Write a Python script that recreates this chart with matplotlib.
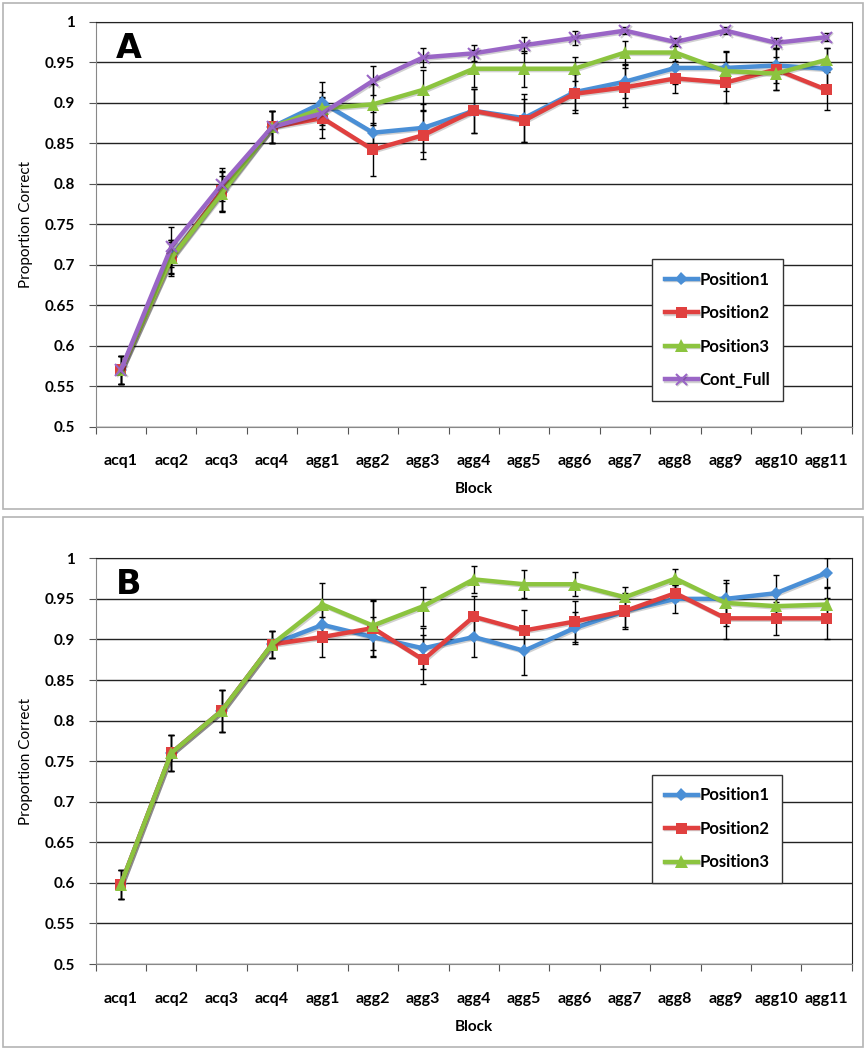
import matplotlib
matplotlib.use("Agg")
import matplotlib.pyplot as plt
import matplotlib.patheffects as pe
from matplotlib.patches import Rectangle
import numpy as np

blocks = ["acq1", "acq2", "acq3", "acq4", "agg1", "agg2", "agg3", "agg4",
          "agg5", "agg6", "agg7", "agg8", "agg9", "agg10", "agg11"]

# Panel A
a_pos1 = [0.570, 0.710, 0.790, 0.870, 0.900, 0.863, 0.869, 0.890, 0.881, 0.913, 0.926, 0.943, 0.943, 0.946, 0.942]
a_pos2 = [0.570, 0.708, 0.791, 0.870, 0.881, 0.842, 0.860, 0.890, 0.878, 0.911, 0.919, 0.930, 0.925, 0.941, 0.916]
a_pos3 = [0.570, 0.708, 0.788, 0.870, 0.893, 0.898, 0.916, 0.942, 0.942, 0.942, 0.962, 0.962, 0.939, 0.936, 0.953]
a_full = [0.570, 0.722, 0.799, 0.870, 0.887, 0.927, 0.956, 0.961, 0.971, 0.980, 0.989, 0.975, 0.989, 0.974, 0.981]
a_err1 = [0.017, 0.020, 0.025, 0.020, 0.025, 0.025, 0.030, 0.027, 0.030, 0.022, 0.020, 0.020, 0.020, 0.022, 0.025]
a_err2 = [0.017, 0.022, 0.025, 0.020, 0.025, 0.033, 0.030, 0.027, 0.027, 0.024, 0.024, 0.018, 0.025, 0.025, 0.025]
a_err3 = [0.017, 0.020, 0.022, 0.020, 0.020, 0.025, 0.025, 0.023, 0.022, 0.015, 0.014, 0.010, 0.025, 0.020, 0.015]
a_errf = [0.017, 0.025, 0.020, 0.020, 0.020, 0.018, 0.012, 0.010, 0.010, 0.009, 0.004, 0.005, 0.004, 0.006, 0.005]

# Panel B
b_pos1 = [0.598, 0.760, 0.812, 0.894, 0.918, 0.903, 0.889, 0.903, 0.886, 0.914, 0.935, 0.950, 0.950, 0.957, 0.982]
b_pos2 = [0.598, 0.760, 0.812, 0.894, 0.903, 0.914, 0.875, 0.928, 0.911, 0.922, 0.935, 0.957, 0.926, 0.926, 0.926]
b_pos3 = [0.598, 0.760, 0.812, 0.894, 0.943, 0.917, 0.941, 0.974, 0.968, 0.968, 0.952, 0.975, 0.945, 0.941, 0.943]
b_err1 = [0.018, 0.022, 0.026, 0.017, 0.020, 0.025, 0.025, 0.025, 0.030, 0.020, 0.020, 0.017, 0.020, 0.022, 0.018]
b_err2 = [0.018, 0.022, 0.026, 0.017, 0.025, 0.035, 0.030, 0.025, 0.025, 0.025, 0.022, 0.010, 0.025, 0.020, 0.025]
b_err3 = [0.018, 0.022, 0.026, 0.017, 0.027, 0.030, 0.024, 0.017, 0.017, 0.015, 0.013, 0.012, 0.028, 0.020, 0.020]

styles = {
    "Position1": dict(color="#4a8fd6", marker="D", ms=6.5, mew=0),
    "Position2": dict(color="#e0403f", marker="s", ms=8, mew=0),
    "Position3": dict(color="#8cc43f", marker="^", ms=9, mew=0),
    "Cont_Full": dict(color="#9a66c6", marker="x", ms=8, mew=1.5),
}

label_font = ["Lato", "DejaVu Sans"]
shadow = [pe.SimpleLineShadow(offset=(1.0, -1.0), alpha=0.18), pe.Normal()]

fig = plt.figure(figsize=(8.66, 10.5), dpi=100)

# gray panel frames
for y0, y1 in [(3, 509), (517, 1047)]:
    fig.patches.append(Rectangle((3 / 866, 1 - y1 / 1050), 860 / 866, (y1 - y0) / 1050,
                                 transform=fig.transFigure, fill=False,
                                 edgecolor="#b4b4b4", lw=1.2))


def draw_panel(ax, series, letter, legend_anchor):
    x = np.arange(len(blocks))
    for name, vals, errs in series:
        ax.errorbar(x, vals, yerr=errs, fmt="none", ecolor="black",
                    elinewidth=1.0, capsize=2.5, capthick=1.0, zorder=3)
    handles = []
    for name, vals, errs in series:
        st = styles[name]
        h, = ax.plot(x, vals, color=st["color"], lw=3.2, marker=st["marker"],
                     ms=st["ms"], mec=st["color"], mew=st["mew"], label=name,
                     zorder=4, path_effects=shadow)
        handles.append(h)

    ax.set_xlim(-0.5, len(blocks) - 0.5)
    ax.set_ylim(0.5, 1.0)
    ax.set_yticks(np.arange(0.5, 1.001, 0.05))
    ax.set_yticklabels(["0.5", "0.55", "0.6", "0.65", "0.7", "0.75", "0.8",
                        "0.85", "0.9", "0.95", "1"],
                       fontsize=11, fontweight="bold", family=label_font)
    ax.grid(axis="y", color="#222222", lw=1.0)
    ax.set_axisbelow(True)

    # tick marks at block boundaries, labels at centers
    ax.set_xticks(np.arange(-0.5, len(blocks), 1.0))
    ax.set_xticklabels([])
    ax.set_xticks(x, minor=True)
    ax.set_xticklabels(blocks, minor=True, fontsize=11.5, fontweight="bold",
                       family=label_font)
    ax.tick_params(axis="x", which="major", length=5, color="#555555", direction="out")
    ax.tick_params(axis="x", which="minor", length=0, pad=20)
    ax.tick_params(axis="y", length=5, color="#555555", pad=10)

    for s in ["top", "right"]:
        ax.spines[s].set_color("#222222")
    for s in ["left", "bottom"]:
        ax.spines[s].set_color("#888888")

    ax.set_xlabel("Block", fontsize=11, fontweight="bold", family=label_font, labelpad=10)
    ax.set_ylabel("Proportion Correct", fontsize=11, family=label_font, labelpad=8)

    ax.text(0.027, 0.975, letter, transform=ax.transAxes, fontsize=24,
            fontweight="heavy", family=["DejaVu Sans"], va="top", ha="left")

    leg = ax.legend(handles=handles, loc="upper left", bbox_to_anchor=legend_anchor,
                    frameon=True, fancybox=False, framealpha=1, edgecolor="#333333",
                    prop=dict(family=label_font, weight="bold", size=12),
                    labelspacing=1.05, handlelength=2.0, handletextpad=0.1,
                    borderpad=0.75, borderaxespad=0)
    leg.get_frame().set_linewidth(1.0)


axA = fig.add_axes([0.1105, 0.5936, 0.873, 0.3857])
draw_panel(axA, [("Position1", a_pos1, a_err1), ("Position2", a_pos2, a_err2),
                 ("Position3", a_pos3, a_err3), ("Cont_Full", a_full, a_errf)],
           "A", (0.736, 0.414))

axB = fig.add_axes([0.1105, 0.0819, 0.873, 0.3864])
draw_panel(axB, [("Position1", b_pos1, b_err1), ("Position2", b_pos2, b_err2),
                 ("Position3", b_pos3, b_err3)],
           "B", (0.736, 0.466))

fig.savefig("out.png", dpi=100)
